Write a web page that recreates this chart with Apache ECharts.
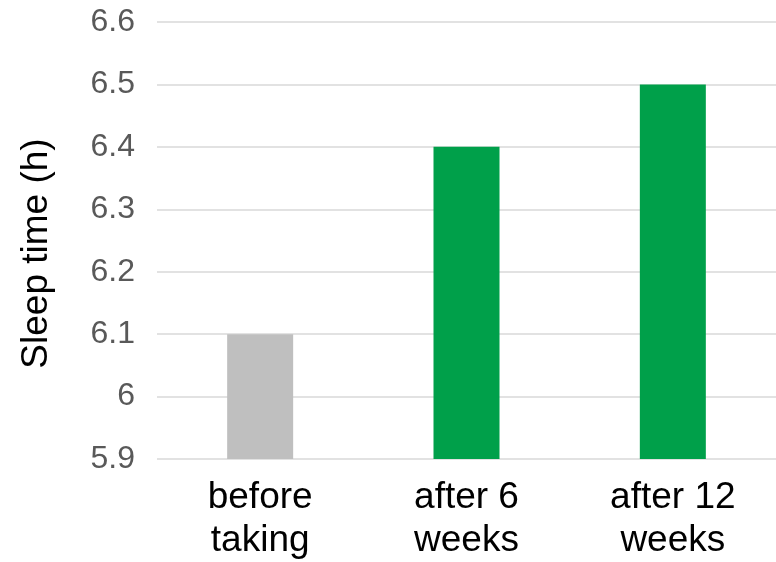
<!DOCTYPE html>
<html>
<head>
<meta charset="utf-8">
<script src="https://cdn.jsdelivr.net/npm/echarts@6/dist/echarts.min.js"></script>
<style>
  html, body { margin: 0; padding: 0; background: #ffffff; }
  #chart { width: 776px; height: 562px; }
</style>
</head>
<body>
<div id="chart"></div>
<script>
// Average sleep time at each stage of intake
const categories = ['before\ntaking', 'after 6\nweeks', 'after 12\nweeks'];
const sleepHours = [6.1, 6.4, 6.5];
const barColors = ['#BFBFBF', '#00A04A', '#00A04A'];
const yMin = 5.9;
const yMax = 6.6;
const yStep = 0.1;

const chart = echarts.init(document.getElementById('chart'), null, { renderer: 'canvas' });

chart.setOption({
  animation: false,
  backgroundColor: '#ffffff',
  grid: { left: 157, top: 22, width: 624, height: 437, containLabel: false },
  xAxis: {
    type: 'category',
    data: categories,
    axisLine: { show: false },
    axisTick: { show: false },
    axisLabel: {
      color: '#000000',
      fontFamily: 'Liberation Sans, Arial, sans-serif',
      fontSize: 37,
      lineHeight: 43,
      margin: 17,
      interval: 0
    }
  },
  yAxis: {
    type: 'value',
    min: yMin,
    max: yMax,
    interval: yStep,
    name: 'Sleep time (h)',
    nameLocation: 'middle',
    nameGap: 102,
    nameTextStyle: {
      color: '#000000',
      fontFamily: 'Liberation Sans, Arial, sans-serif',
      fontSize: 37,
      padding: [0, 0, 0, -26]
    },
    axisLine: { show: false },
    axisTick: { show: false },
    splitLine: { lineStyle: { color: '#D9D9D9', width: 1.5 } },
    axisLabel: {
      color: '#595959',
      fontFamily: 'Liberation Sans, Arial, sans-serif',
      fontSize: 32,
      margin: 22,
      formatter: v => String(Math.round(v * 10) / 10)
    }
  },
  series: [{
    type: 'bar',
    barWidth: 66,
    data: sleepHours.map((v, i) => ({ value: v, itemStyle: { color: barColors[i] } }))
  }]
});
</script>
</body>
</html>
